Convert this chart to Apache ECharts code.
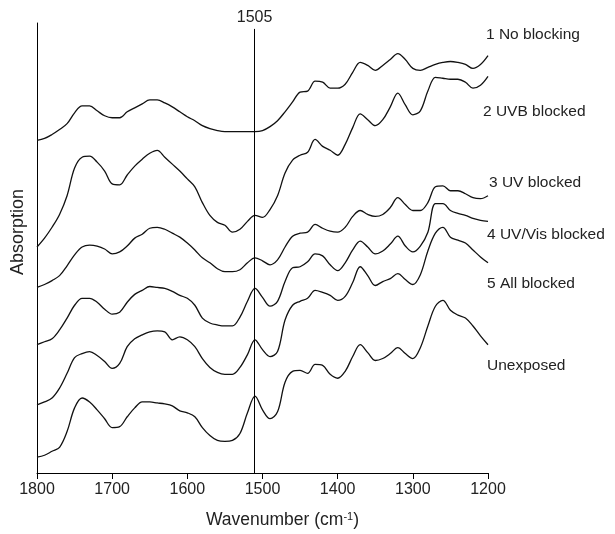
<!DOCTYPE html>
<html>
<head>
<meta charset="utf-8">
<script src="https://cdn.jsdelivr.net/npm/echarts@6/dist/echarts.min.js"></script>
<style>
    html, body { margin: 0; padding: 0; background: #fff; }
    #main { width: 615px; height: 534px; }
</style>
</head>
<body>
<div id="main"></div>
<script>
// wavenumber grid (cm-1), read every 10 cm-1
var wavenumbers = [
    1800, 1790, 1780, 1770, 1760, 1750, 1740, 1730, 1720, 1710,
    1700, 1690, 1680, 1670, 1660, 1650, 1640, 1630, 1620, 1610,
    1600, 1590, 1580, 1570, 1560, 1550, 1540, 1530, 1520, 1510,
    1500, 1490, 1480, 1470, 1460, 1450, 1440, 1430, 1420, 1410,
    1400, 1390, 1380, 1370, 1360, 1350, 1340, 1330, 1320, 1310,
    1300, 1290, 1280, 1270, 1260, 1250, 1240, 1230, 1220, 1210,
    1200
];

// offset absorption traces (arbitrary units)
var noBlocking = [
    337, 339, 343, 348, 354, 365, 372, 372, 367, 362,
    360, 360, 366, 370, 374, 378, 378, 375, 371, 366,
    361, 357, 352, 349, 347, 346, 346, 346, 346, 346,
    347, 351, 357, 366, 376, 386, 387, 397, 396, 390,
    390, 394, 406, 416, 413, 408, 413, 419, 425, 419,
    410, 408, 411, 414, 416, 417, 416, 414, 410, 414,
    423
];
var uvbBlocked = [
    229, 238, 249, 262, 281, 309, 320, 321, 315, 306,
    293, 292, 302, 311, 318, 324, 327, 320, 313, 306,
    298, 290, 274, 261, 254, 251, 244, 247, 255, 261,
    259, 267, 281, 304, 317, 322, 325, 338, 331, 327,
    322, 333, 350, 364, 358, 352, 358, 371, 385, 373,
    363, 367, 387, 401, 400, 399, 399, 396, 390, 393,
    402
];
var uvBlocked = [
    188, 191, 195, 200, 210, 221, 229, 231, 230, 227,
    222, 224, 230, 238, 242, 248, 249, 247, 243, 239,
    233, 226, 218, 213, 207, 204, 204, 206, 213, 218,
    215, 211, 216, 229, 240, 243, 244, 252, 248, 245,
    244, 249, 260, 266, 262, 260, 262, 269, 279, 272,
    266, 266, 274, 290, 291, 286, 286, 283, 279, 278,
    281
];
var uvVisBlocked = [
    130, 133, 136, 145, 157, 170, 177, 177, 173, 166,
    161, 163, 173, 181, 185, 189, 188, 187, 184, 180,
    177, 170, 157, 152, 150, 149, 149, 158, 174, 187,
    178, 169, 174, 194, 208, 209, 214, 222, 220, 211,
    205, 213, 226, 235, 229, 222, 225, 232, 240, 230,
    224, 230, 244, 273, 273, 266, 263, 261, 258, 256,
    255
];
var allBlocked = [
    69, 72, 76, 86, 101, 117, 121, 123, 119, 113,
    106, 111, 128, 136, 140, 143, 144, 143, 135, 138,
    135, 128, 116, 107, 102, 100, 100, 107, 120, 135,
    125, 118, 123, 155, 170, 174, 177, 185, 183, 180,
    175, 179, 193, 209, 200, 190, 194, 197, 202, 196,
    191, 201, 225, 243, 249, 239, 236, 233, 226, 219,
    213
];
var unexposed = [
    16, 18, 22, 26, 42, 66, 76, 72, 64, 55,
    46, 47, 57, 66, 72, 72, 71, 70, 68, 63,
    61, 57, 46, 38, 33, 32, 33, 40, 61, 78,
    64, 55, 62, 92, 103, 104, 101, 110, 109, 100,
    96, 103, 118, 130, 122, 114, 116, 121, 127, 121,
    116, 127, 149, 169, 175, 165, 160, 157, 149, 139,
    130
];

var seriesNames = ['1 No blocking', '2 UVB blocked', '3 UV blocked', '4 UV/Vis blocked', '5 All blocked', 'Unexposed'];
var seriesData = [noBlocking, uvbBlocked, uvBlocked, uvVisBlocked, allBlocked, unexposed];
var markerLabel = '1505';

var FONT = '"Liberation Sans", Arial, sans-serif';
var chart = echarts.init(document.getElementById('main'));

// label anchor points (left, middle) next to the right ends of the traces
var labelPos = [[486, 35], [483, 112], [489, 183], [487, 235], [487, 284], [487, 366]];

var series = seriesData.map(function (arr, k) {
    var s = {
        name: seriesNames[k],
        type: 'line',
        showSymbol: false,
        smooth: 0.35,
        lineStyle: { color: '#111', width: 1.3 },
        data: wavenumbers.map(function (w, i) { return [w, arr[i]]; })
    };
    if (k === 0) {
        s.markLine = {
            silent: true,
            symbol: ['none', 'none'],
            lineStyle: { color: '#000', width: 1, type: 'solid' },
            label: {
                show: true,
                position: 'end',
                formatter: markerLabel,
                fontSize: 16,
                fontFamily: FONT,
                color: '#222',
                distance: 3
            },
            data: [[{ coord: [1510.5, 0] }, { coord: [1510.5, 450] }]]
        };
    }
    return s;
});

chart.setOption({
    animation: false,
    backgroundColor: '#fff',
    grid: { left: 37, right: 127, top: 23, bottom: 55 },
    xAxis: {
        type: 'value',
        inverse: true,
        min: 1200,
        max: 1800,
        interval: 100,
        splitLine: { show: false },
        axisLine: { lineStyle: { color: '#000', width: 1 } },
        axisTick: { length: 6, lineStyle: { color: '#000' } },
        axisLabel: {
            fontSize: 16, color: '#222', margin: 9, fontFamily: FONT,
            formatter: function (v) { return String(v); }
        },
        name: 'Wavenumber (cm{sup|-1})',
        nameLocation: 'middle',
        nameGap: 38,
        nameTextStyle: {
            fontSize: 17.5,
            color: '#222',
            fontFamily: FONT,
            padding: [0, 0, 0, 40],
            rich: {
                sup: { fontSize: 11, fontFamily: FONT, color: '#222', verticalAlign: 'top', lineHeight: 11 }
            }
        }
    },
    yAxis: {
        type: 'value',
        min: 0,
        max: 456,
        splitLine: { show: false },
        axisLine: { show: true, lineStyle: { color: '#000', width: 1 } },
        axisTick: { show: false },
        axisLabel: { show: false },
        name: 'Absorption',
        nameLocation: 'middle',
        nameGap: 10,
        nameTextStyle: { fontSize: 18, color: '#222', fontFamily: FONT, padding: [0, 0, 0, 32] }
    },
    graphic: seriesNames.map(function (name, k) {
        return {
            type: 'text',
            x: labelPos[k][0],
            y: labelPos[k][1],
            style: {
                text: name,
                fontSize: 15.5,
                fontFamily: FONT,
                fill: '#222',
                verticalAlign: 'middle'
            }
        };
    }),
    series: series
});

window.onresize = chart.resize;
</script>
</body>
</html>
